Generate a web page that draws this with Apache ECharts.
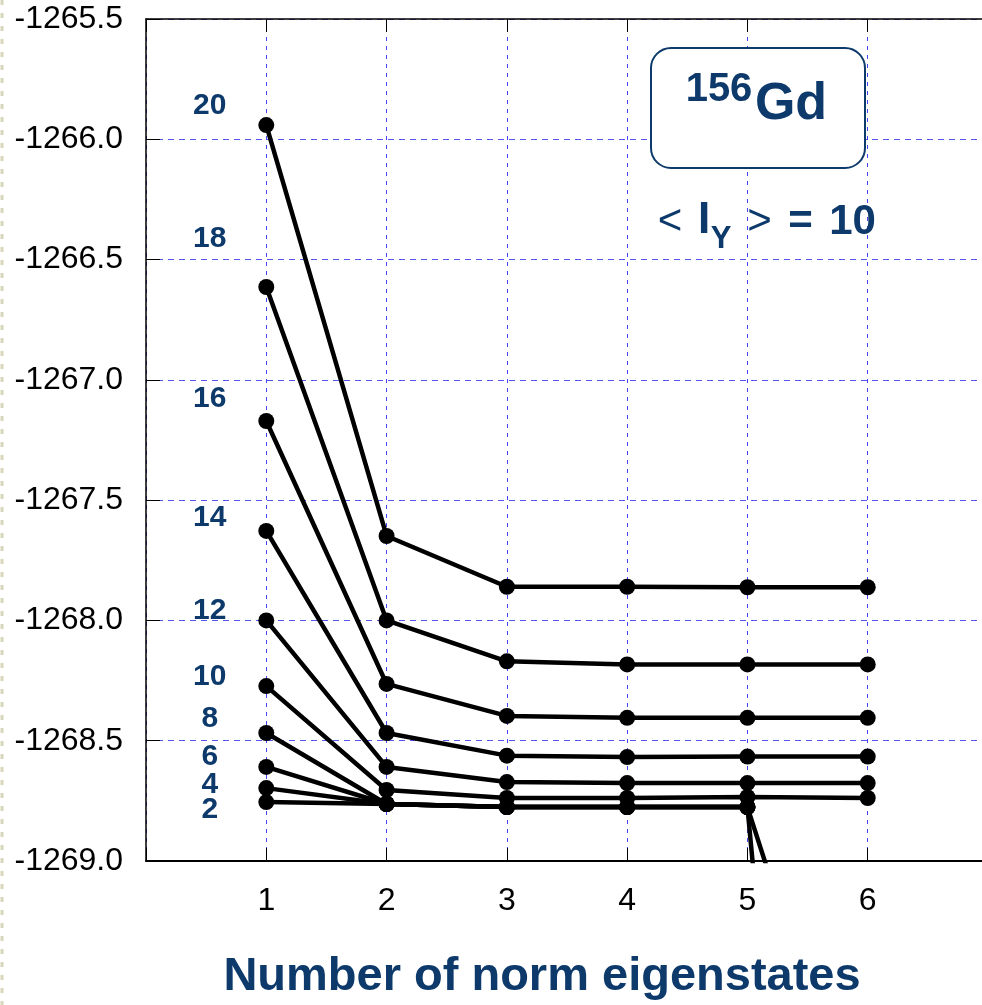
<!DOCTYPE html>
<html>
<head>
<meta charset="utf-8">
<script src="https://cdn.jsdelivr.net/npm/echarts@6/dist/echarts.min.js"></script>
<style>
  html, body { margin: 0; padding: 0; background: #ffffff; }
  #chart { width: 982px; height: 1005px; }
</style>
</head>
<body>
<div id="chart"></div>
<script>
// Ground-state energy (MeV) of 156Gd at <I_Y> = 10 versus number of norm eigenstates kept
const nStates = [1, 2, 3, 4, 5, 6];
const spins = [20, 18, 16, 14, 12, 10, 8, 6, 4, 2];

const e20 = [-1265.941, -1267.649, -1267.860, -1267.860, -1267.862, -1267.862];
const e18 = [-1266.614, -1268.000, -1268.170, -1268.183, -1268.183, -1268.183];
const e16 = [-1267.171, -1268.264, -1268.397, -1268.405, -1268.405, -1268.405];
const e14 = [-1267.628, -1268.468, -1268.562, -1268.568, -1268.566, -1268.566];
const e12 = [-1268.000, -1268.609, -1268.672, -1268.676, -1268.676, -1268.676];
const e10 = [-1268.273, -1268.705, -1268.738, -1268.738, -1268.734, -1268.738];
const e8  = [-1268.468, -1268.763, -1268.776, -1268.776, -1268.776, -1270.33];
const e6  = [-1268.609, -1268.763, -1268.776, -1268.776, -1268.776, -1274.06];
const e4  = [-1268.697, -1268.763, -1268.776, -1268.776, -1268.776, null];
const e2  = [-1268.755, -1268.763, -1268.776, -1268.776, -1268.776, null];

const energies = [e20, e18, e16, e14, e12, e10, e8, e6, e4, e2];

// y-axis ticks
const yMin = -1269.0, yMax = -1265.5, yStep = 0.5;
// x-axis extent (ticks 1..6 labelled)
const xMin = 0, xMax = 7;

const NAVY = '#0d3a6b';
const GRID_BLUE = '#4444ff';
const FONT = '"Liberation Sans", Arial, sans-serif';

// where the spin tags sit, left of the first column
const TAG_X = 0.53;
const TAG_Y = [-1265.862, -1266.415, -1267.080, -1267.574, -1267.961,
               -1268.235, -1268.410, -1268.568, -1268.684, -1268.788];

const lineSeries = energies.map((vals, i) => ({
  name: 'I = ' + spins[i],
  type: 'line',
  data: nStates.map((n, k) => [n, vals[k]]),
  symbol: 'circle',
  symbolSize: 16,
  showAllSymbol: true,
  connectNulls: false,
  clip: true,
  lineStyle: { color: '#000', width: 4.5 },
  itemStyle: { color: '#000' },
  z: 3
}));

const tagSeries = {
  type: 'scatter',
  symbolSize: 1,
  itemStyle: { color: 'transparent', opacity: 1 },
  silent: true,
  z: 4,
  data: spins.map((s, i) => ({
    value: [TAG_X, TAG_Y[i]],
    label: {
      show: true,
      position: 'inside',
      formatter: String(s),
      color: NAVY,
      opacity: 1,
      fontFamily: FONT,
      fontWeight: 'bold',
      fontSize: 30
    }
  }))
};

const chart = echarts.init(document.getElementById('chart'), null, { renderer: 'canvas' });

chart.setOption({
  animation: false,
  backgroundColor: '#ffffff',
  grid: { left: 146, top: 19, width: 842, height: 842, containLabel: false, outerBoundsMode: 'none' },
  xAxis: [{
    type: 'value',
    position: 'bottom',
    min: xMin, max: xMax, interval: 1,
    axisLine: { show: true, onZero: false, lineStyle: { color: '#000', width: 2 } },
    axisTick: { show: true, inside: true, length: 13, lineStyle: { color: '#000', width: 1 } },
    axisLabel: {
      show: true, margin: 24, color: '#000', fontFamily: FONT, fontSize: 32,
      formatter: v => (v >= 1 && v <= 6) ? String(v) : ''
    },
    splitLine: { show: true, lineStyle: { color: GRID_BLUE, width: 1, type: [4, 5] } }
  }, {
    type: 'value',
    position: 'top',
    min: xMin, max: xMax, interval: 1,
    axisLine: { show: true, onZero: false, lineStyle: { color: '#000', width: 1.5 } },
    axisTick: { show: true, inside: true, length: 13, lineStyle: { color: '#000', width: 1 } },
    axisLabel: { show: false },
    splitLine: { show: false }
  }],
  yAxis: {
    type: 'value',
    min: yMin, max: yMax, interval: yStep,
    axisLine: { show: true, onZero: false, lineStyle: { color: '#000', width: 1.5 } },
    axisTick: { show: true, inside: true, length: 14, lineStyle: { color: '#000', width: 1 } },
    axisLabel: {
      show: true, margin: 23, color: '#000', fontFamily: FONT, fontSize: 32,
      formatter: v => v.toFixed(1)
    },
    splitLine: { show: true, lineStyle: { color: '#5555f2', width: 1, type: [6, 5] } }
  },
  series: lineSeries.concat([tagSeries]),
  graphic: [
    // dashed beige margin rule on the left edge
    {
      type: 'line', z: 100,
      shape: { x1: 2, y1: 0, x2: 2, y2: 1005 },
      style: { stroke: '#d8d7bb', lineWidth: 3, lineDash: [5, 8] }
    },
    // nucleus box
    {
      type: 'rect', z: 100,
      shape: { x: 651, y: 48, width: 214, height: 120, r: 20 },
      style: { fill: '#ffffff', stroke: NAVY, lineWidth: 2 }
    },
    {
      type: 'text', z: 101,
      style: { x: 719, y: 90, text: '156', fill: NAVY, font: 'bold 40px ' + FONT, textAlign: 'center', textVerticalAlign: 'middle' }
    },
    {
      type: 'text', z: 101,
      style: { x: 791, y: 105, text: 'Gd', fill: NAVY, font: 'bold 52px ' + FONT, textAlign: 'center', textVerticalAlign: 'middle' }
    },
    // < I_Y > = 10
    {
      type: 'text', z: 101,
      style: { x: 670, y: 222, text: '<', fill: NAVY, font: '42px ' + FONT, textAlign: 'center', textVerticalAlign: 'middle' }
    },
    {
      type: 'text', z: 101,
      style: { x: 704, y: 221, text: 'I', fill: NAVY, font: 'bold 44px ' + FONT, textAlign: 'center', textVerticalAlign: 'middle' }
    },
    {
      type: 'text', z: 101,
      style: { x: 721, y: 239, text: 'Y', fill: NAVY, font: 'bold 31px ' + FONT, textAlign: 'center', textVerticalAlign: 'middle' }
    },
    {
      type: 'text', z: 101,
      style: { x: 759.5, y: 222, text: '>', fill: NAVY, font: '42px ' + FONT, textAlign: 'center', textVerticalAlign: 'middle' }
    },
    {
      type: 'text', z: 101,
      style: { x: 800.5, y: 222, text: '=', fill: NAVY, font: 'bold 42px ' + FONT, textAlign: 'center', textVerticalAlign: 'middle' }
    },
    {
      type: 'text', z: 101,
      style: { x: 852.5, y: 222, text: '10', fill: NAVY, font: 'bold 42px ' + FONT, textAlign: 'center', textVerticalAlign: 'middle' }
    },
    // x-axis title
    {
      type: 'text', z: 101,
      style: { x: 542, y: 977, text: 'Number of norm eigenstates', fill: NAVY, font: 'bold 47px ' + FONT, textAlign: 'center', textVerticalAlign: 'middle' }
    }
  ]
});
</script>
</body>
</html>
